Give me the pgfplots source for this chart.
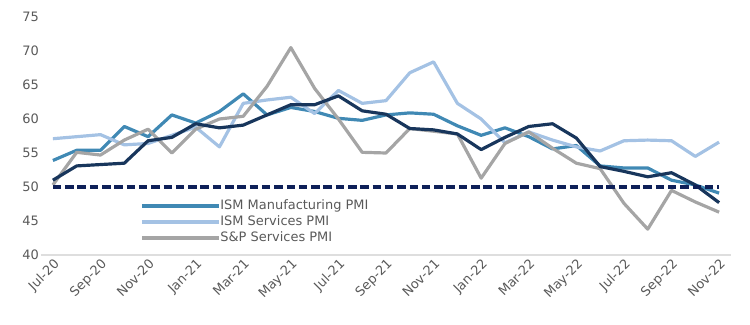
\documentclass[border=0pt]{standalone}
\usepackage{fontspec}
\setmainfont{DejaVu Sans}
\usepackage{pgfplots}
\pgfplotsset{compat=1.18}
\definecolor{mfg}{RGB}{64,137,180}
\definecolor{svc}{RGB}{164,194,228}
\definecolor{spg}{RGB}{165,165,165}
\definecolor{navyline}{RGB}{24,54,92}
\definecolor{dashnavy}{RGB}{14,32,88}
\definecolor{tickgray}{RGB}{89,89,89}
\begin{document}
\begin{tikzpicture}
\useasboundingbox (-41bp,-70bp) rectangle (709bp,255bp);
\begin{axis}[
  scale only axis, width=690bp, height=238bp,
  xmin=-0.5, xmax=28.5, ymin=40, ymax=75,
  ytick={40,45,...,75},
  xtick={0,2,...,28},
  xticklabels={Jul-20,Sep-20,Nov-20,Jan-21,Mar-21,May-21,Jul-21,Sep-21,Nov-21,Jan-22,Mar-22,May-22,Jul-22,Sep-22,Nov-22},
  axis x line*=bottom, axis y line*=left,
  y axis line style={draw=none},
  x axis line style={draw=black!13, line width=1.2pt},
  major tick length=0pt,
  tick label style={font=\fontsize{13}{15}\selectfont, text=tickgray},
  /pgf/number format/assume math mode=true,
  x tick label style={rotate=45, anchor=north east, inner sep=2pt},
  y tick label style={inner sep=2pt},
  legend image code/.code={\draw[#1] (0bp,0bp) -- (77bp,0bp);},
  legend style={draw=none, fill=none, at={(0.1435,0.234)}, anchor=north west,
    font=\fontsize{13}{15}\selectfont, text=tickgray, row sep=3bp, inner sep=0pt,
    cells={anchor=west}, nodes={inner sep=0pt, text height=10bp, text depth=3bp}},
  every axis plot/.append style={line width=3.2pt, line join=round},
]
\addplot[mfg] coordinates {(0,53.9)(1,55.4)(2,55.4)(3,58.9)(4,57.4)(5,60.6)(6,59.4)(7,61.1)(8,63.7)(9,60.6)(10,61.7)(11,61.1)(12,60.1)(13,59.8)(14,60.6)(15,60.9)(16,60.7)(17,59.0)(18,57.6)(19,58.7)(20,57.4)(21,55.6)(22,56.1)(23,53.1)(24,52.8)(25,52.8)(26,51.0)(27,50.3)(28,49.1)};
\addlegendentry{ISM Manufacturing PMI}
\addplot[svc] coordinates {(0,57.1)(1,57.4)(2,57.7)(3,56.2)(4,56.4)(5,57.6)(6,58.8)(7,55.9)(8,62.3)(9,62.8)(10,63.2)(11,60.8)(12,64.2)(13,62.3)(14,62.7)(15,66.8)(16,68.4)(17,62.3)(18,60.0)(19,56.5)(20,58.1)(21,56.9)(22,55.9)(23,55.3)(24,56.8)(25,56.9)(26,56.8)(27,54.5)(28,56.6)};
\addlegendentry{ISM Services PMI}
\addplot[spg] coordinates {(0,50.3)(1,55.1)(2,54.7)(3,56.9)(4,58.5)(5,55.0)(6,58.5)(7,60.0)(8,60.4)(9,64.8)(10,70.5)(11,64.5)(12,60.0)(13,55.1)(14,55.0)(15,58.6)(16,58.2)(17,57.8)(18,51.3)(19,56.4)(20,58.1)(21,55.7)(22,53.5)(23,52.7)(24,47.6)(25,43.8)(26,49.5)(27,47.8)(28,46.3)};
\addlegendentry{S\&P Services PMI}
\addplot[navyline, forget plot] coordinates {(0,51.0)(1,53.1)(2,53.3)(3,53.5)(4,56.8)(5,57.3)(6,59.3)(7,58.7)(8,59.1)(9,60.6)(10,62.1)(11,62.1)(12,63.4)(13,61.2)(14,60.7)(15,58.6)(16,58.4)(17,57.8)(18,55.5)(19,57.3)(20,58.9)(21,59.3)(22,57.2)(23,53.0)(24,52.3)(25,51.5)(26,52.1)(27,50.3)(28,47.7)};
\addplot[dashnavy, forget plot, line width=3.6bp, line cap=butt, dash pattern=on 8.5bp off 3.8bp] coordinates {(0,50)(28,50)};
\end{axis}
\end{tikzpicture}
\end{document}
